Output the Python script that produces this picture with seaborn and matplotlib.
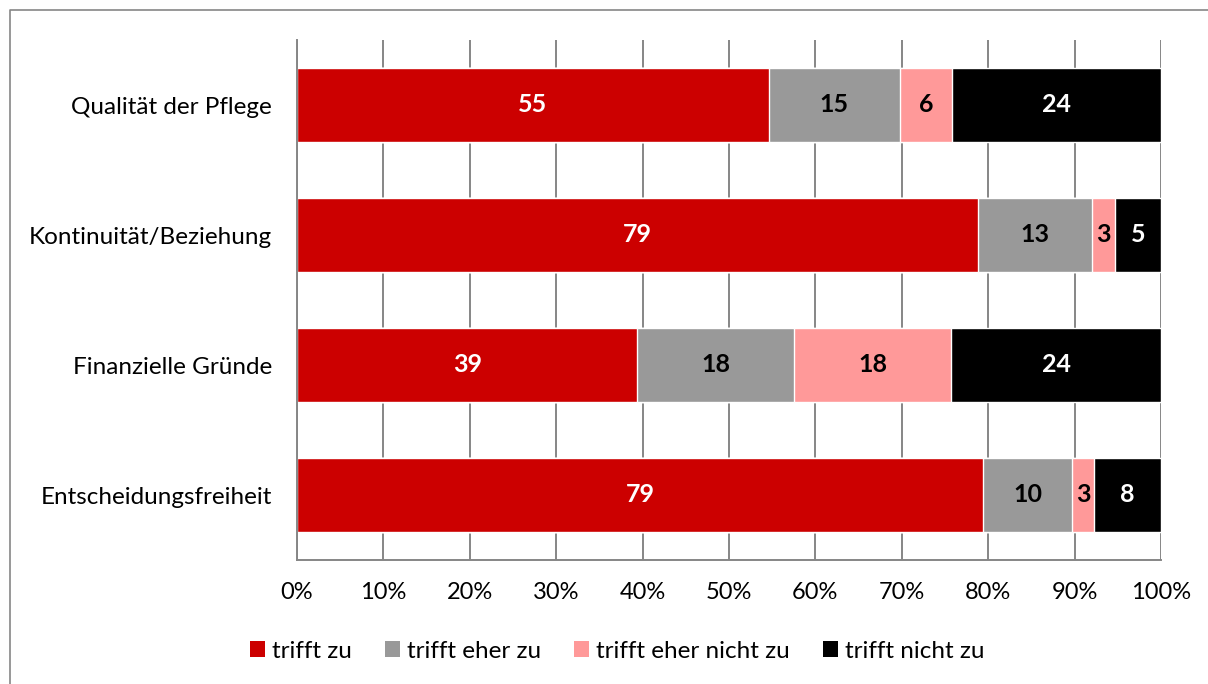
import numpy as np
import pandas as pd
import matplotlib.pyplot as plt
import seaborn as sns
from matplotlib.lines import Line2D
from matplotlib.patches import Patch

# Data (percent shares)
categories = ["Qualität der Pflege", "Kontinuität/Beziehung", "Finanzielle Gründe", "Entscheidungsfreiheit"]
series_names = ["trifft zu", "trifft eher zu", "trifft eher nicht zu", "trifft nicht zu"]
trifft_zu = [54.6, 78.8, 39.4, 79.4]
trifft_eher_zu = [15.2, 13.2, 18.1, 10.3]
trifft_eher_nicht_zu = [6.0, 2.7, 18.2, 2.6]
trifft_nicht_zu = [24.2, 5.3, 24.3, 7.7]
x_ticks = [0, 10, 20, 30, 40, 50, 60, 70, 80, 90, 100]

colors = ["#CC0000", "#999999", "#FF9999", "#000000"]
text_colors = ["white", "black", "black", "white"]

sns.set_style("white")
plt.rcParams['font.family'] = ['Lato', 'DejaVu Sans']
plt.rcParams['text.color'] = 'black'
plt.rcParams['xtick.labelcolor'] = 'black'
plt.rcParams['ytick.labelcolor'] = 'black'

df = pd.DataFrame({"Kategorie": categories,
                   series_names[0]: trifft_zu,
                   series_names[1]: trifft_eher_zu,
                   series_names[2]: trifft_eher_nicht_zu,
                   series_names[3]: trifft_nicht_zu})
cum = df[series_names].cumsum(axis=1)

fig = plt.figure(figsize=(12.08, 6.84), dpi=100)
ax = fig.add_axes([297 / 1208, 1 - 560 / 684, (1161 - 297) / 1208, 520 / 684])

# Vertical gridlines behind bars
ax.set_axisbelow(True)
for t in x_ticks:
    ax.axvline(t, color="#868686", lw=1.4, zorder=0)

# Stacked bars: draw cumulative sums from the last series down to the first
for name, col in reversed(list(zip(series_names, colors))):
    sns.barplot(x=cum[name], y=df["Kategorie"], color=col, orient="h",
                width=0.57, saturation=1, ax=ax, zorder=2)

# Segment labels
for i, name in enumerate(series_names):
    vals = df[name].values
    lefts = cum[name].values - vals
    for j, v in enumerate(vals):
        ax.text(lefts[j] + v / 2, j, f"{v:.0f}", ha="center", va="center",
                color=text_colors[i], fontsize=18, fontweight="bold", zorder=3)

ax.set_xlim(0, 100)
ax.set_ylim(3.5, -0.5)
ax.set_xticks(x_ticks)
ax.set_xticklabels([f"{t}%" for t in x_ticks], fontsize=17)
ax.set_yticks(range(len(categories)))
ax.set_yticklabels(categories, fontsize=17.5)
ax.set_yticks([-0.5, 0.5, 1.5, 2.5, 3.5], minor=True)
ax.tick_params(axis="y", which="major", length=0, pad=18)
ax.tick_params(axis="y", which="minor", length=5.5, width=1.4, color="#868686", direction="out")
ax.tick_params(axis="x", length=5.5, width=1.4, color="#868686", direction="out", pad=10)
ax.set_xlabel("")
ax.set_ylabel("")

for side in ["top", "right"]:
    ax.spines[side].set_visible(False)
for side in ["left", "bottom"]:
    ax.spines[side].set_color("#868686")
    ax.spines[side].set_linewidth(1.4)

handles = [Patch(facecolor=c, edgecolor="none") for c in colors]
fig.legend(handles, series_names, loc="center", bbox_to_anchor=(0.511, 1 - 651 / 684),
           ncol=4, frameon=False, fontsize=17.5, handlelength=0.62, handleheight=0.62,
           handletextpad=0.3, columnspacing=1.35)

# Outer chart frame (only top and left edges fall inside the image)
fig.lines.append(Line2D([10 / 1208, 10 / 1208, 1.0], [0.0, 1 - 10 / 684, 1 - 10 / 684],
                        transform=fig.transFigure, color="#868686", lw=1.2))

fig.savefig("out.png", dpi=100)
